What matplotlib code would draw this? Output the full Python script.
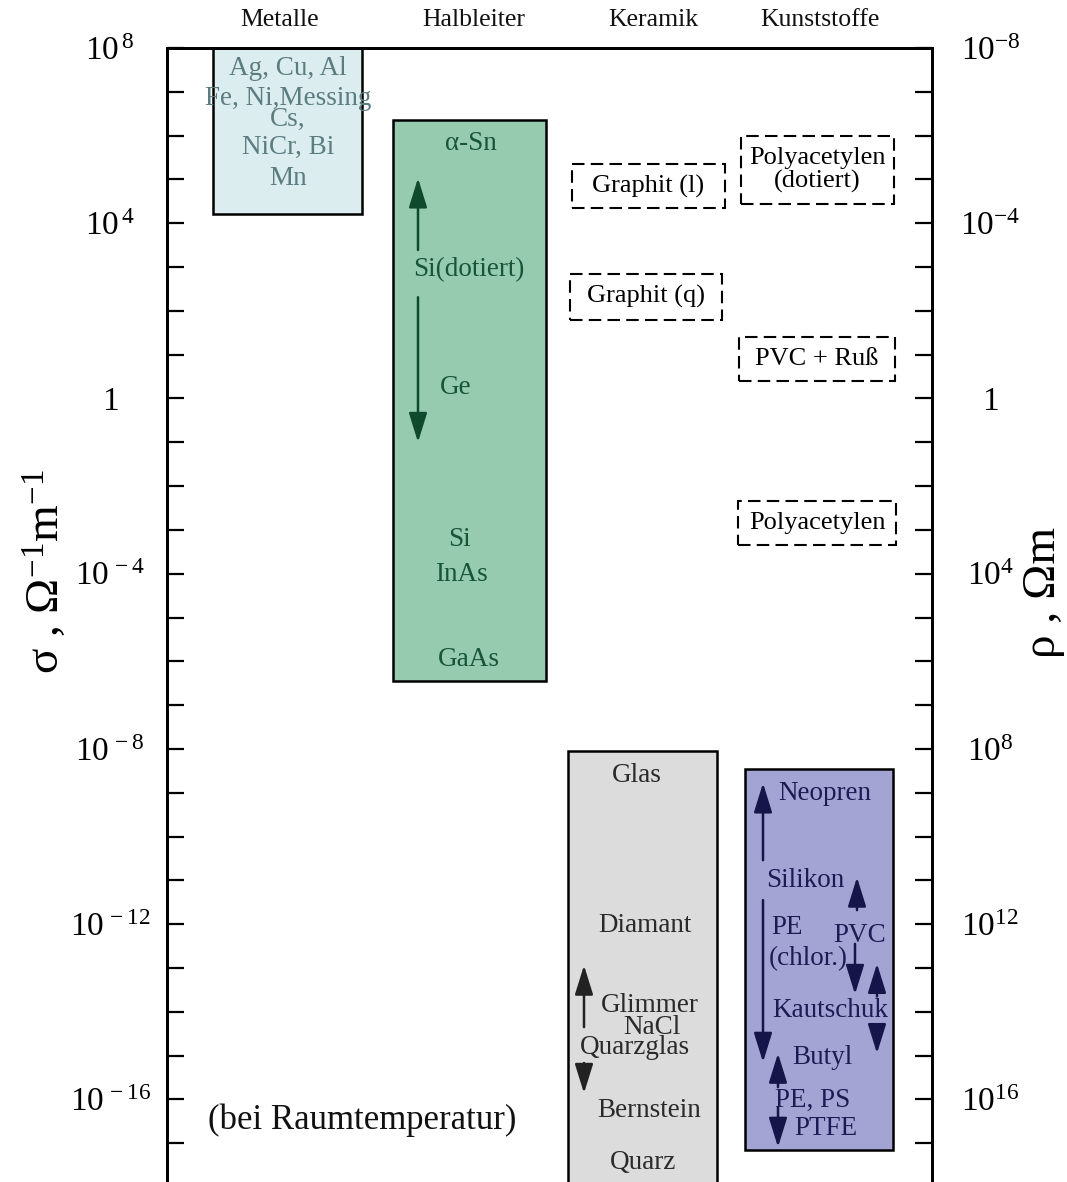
import matplotlib
matplotlib.use("Agg")
import matplotlib.pyplot as plt
from matplotlib.patches import Rectangle
from matplotlib.transforms import blended_transform_factory
from matplotlib.ticker import FixedLocator, FixedFormatter, NullLocator

plt.rcParams['font.family'] = ['Liberation Serif', 'DejaVu Serif']
plt.rcParams['mathtext.fontset'] = 'custom'
plt.rcParams['mathtext.rm'] = 'Liberation Serif'
plt.rcParams['mathtext.it'] = 'Liberation Serif:italic'
plt.rcParams['mathtext.bf'] = 'Liberation Serif:bold'

# ---------------------------------------------------------------- data
categories = ['Metalle', 'Halbleiter', 'Keramik', 'Kunststoffe']

# conductivity ranges of the material classes, log10(sigma / (Ohm^-1 m^-1))
class_low = [4.2, -6.45, -18.5, -17.15]
class_high = [8.0, 6.35, -8.05, -8.45]

# special (conducting) materials, drawn as dashed boxes
special_names = ['Graphit (l)', 'Graphit (q)', 'Polyacetylen\n(dotiert)',
                 'PVC + Ruß', 'Polyacetylen']
special_low = [4.35, 1.8, 4.45, 0.4, -3.35]
special_high = [5.35, 2.85, 6.0, 1.4, -2.35]

metal_labels = ['Ag, Cu, Al', 'Fe, Ni,Messing', 'Cs,', 'NiCr, Bi', 'Mn']
metal_sigma = [7.54, 6.84, 6.36, 5.74, 5.03]

semi_labels = ['α-Sn', 'Si(dotiert)', 'Ge', 'Si', 'InAs', 'GaAs']
semi_sigma = [5.83, 2.93, 0.26, -3.23, -4.01, -5.95]

ceramic_labels = ['Glas', 'Diamant', 'Glimmer', 'NaCl', 'Quarzglas',
                  'Bernstein', 'Quarz']
ceramic_sigma = [-8.6, -12.02, -13.85, -14.35, -14.81, -16.25, -17.43]

polymer_labels = ['Neopren', 'Silikon', 'PE', 'PVC', '(chlor.)',
                  'Kautschuk', 'Butyl', 'PE, PS', 'PTFE']
polymer_sigma = [-9.01, -11.0, -12.07, -12.25, -12.78, -13.96, -15.04,
                 -16.02, -16.66]

# arrows indicating spread of values: (start, end) in log10 sigma
semi_arrow_from = [3.39, 2.31]
semi_arrow_to = [5.03, -1.0]
ceramic_arrow_from = [-14.35, -15.17]
ceramic_arrow_to = [-12.94, -15.86]
polymer_arrow_from = [-10.54, -11.45, -11.68, -12.45, -13.65, -14.3, -15.72, -16.18]
polymer_arrow_to = [-8.78, -15.15, -10.93, -13.6, -12.9, -14.95, -14.95, -17.09]

sigma_ticks = list(range(-18, 9))
sigma_tick_labels = {8: r'$10^{\,8}$', 4: r'$10^{\,4}$', 0: '1',
                     -4: r'$10^{\,-4}$', -8: r'$10^{\,-8}$',
                     -12: r'$10^{\,-12}$', -16: r'$10^{\,-16}$'}
rho_ticks = list(range(-8, 19))
rho_tick_labels = {-8: r'$10^{-8}$', -4: r'$10^{-4}$', 0: '1',
                   4: r'$10^{4}$', 8: r'$10^{8}$', 12: r'$10^{12}$',
                   16: r'$10^{16}$'}

# ---------------------------------------------------------------- layout
W, H = 1067, 1182
fig = plt.figure(figsize=(W / 100, H / 100), dpi=100)
ax = fig.add_axes([167 / W, 1 - 1187 / H, 765 / W, (1187 - 48) / H])
ax.set_xlim(0, 765)
ax.set_yscale('log')
ax.set_ylim(10.0 ** -18, 10.0 ** 8)

class_x = [46, 226, 401, 578]
class_w = [149, 153, 149, 148]
class_face = ['#dcedf0', '#97cbb0', '#dcdcdc', '#a4a4d4']
class_text = ['#5c7d80', '#16553a', '#2a2a2a', '#1c1c55']

special_x = [405, 403, 574, 572, 571]
special_w = [153, 152, 153, 156, 158]

title_x = [113, 307, 486, 653]

# ---------------------------------------------------------------- boxes
for x0, w, lo, hi, fc in zip(class_x, class_w, class_low, class_high, class_face):
    ax.add_patch(Rectangle((x0, 10.0 ** lo), w, 10.0 ** hi - 10.0 ** lo,
                           facecolor=fc, edgecolor='black', lw=1.8, zorder=2))

for name, x0, w, lo, hi in zip(special_names, special_x, special_w,
                               special_low, special_high):
    ax.add_patch(Rectangle((x0, 10.0 ** lo), w, 10.0 ** hi - 10.0 ** lo,
                           facecolor='none', edgecolor='black', lw=1.5,
                           linestyle=(0, (6, 3)), zorder=2))
    ym = 10.0 ** ((lo + hi) / 2)
    ax.text(x0 + w / 2, ym, name, ha='center', va='center', fontsize=19,
            linespacing=1.05, color='black', zorder=3)

# ---------------------------------------------------------------- labels
metal_x = [121, 121, 121, 121, 121]
semi_x = [304, 302, 289, 292, 294, 302]
ceramic_x = [470, 478, 483, 485, 468, 482, 476]
polymer_x = [658, 638, 620, 693, 641, 663, 655, 646, 659]

label_sets = [(metal_labels, metal_sigma, metal_x, class_text[0]),
              (semi_labels, semi_sigma, semi_x, class_text[1]),
              (ceramic_labels, ceramic_sigma, ceramic_x, class_text[2]),
              (polymer_labels, polymer_sigma, polymer_x, class_text[3])]
for labels, sig, xs, col in label_sets:
    for lab, s, x in zip(labels, sig, xs):
        ax.text(x, 10.0 ** s, lab, ha='center', va='center', fontsize=19.5,
                color=col, zorder=4)

# ---------------------------------------------------------------- arrows
def draw_arrows(xs, starts, ends, color):
    for x, a, b in zip(xs, starts, ends):
        ax.annotate('', xy=(x, 10.0 ** b), xytext=(x, 10.0 ** a),
                    arrowprops=dict(arrowstyle='-|>,head_length=0.9,head_width=0.28',
                                    mutation_scale=20, lw=1.8, color=color,
                                    shrinkA=0, shrinkB=0),
                    zorder=4)

draw_arrows([251, 251], semi_arrow_from, semi_arrow_to, '#0f4a2e')
draw_arrows([417, 417], ceramic_arrow_from, ceramic_arrow_to, '#222222')
draw_arrows([596, 596, 690, 688, 710, 710, 611, 611],
            polymer_arrow_from, polymer_arrow_to, '#15154a')

ax.text(195, 10.0 ** -16.47, '(bei Raumtemperatur)', ha='center', va='center',
        fontsize=25, color='#111111')

# ---------------------------------------------------------------- headers
hdr = blended_transform_factory(ax.transData, fig.transFigure)
for name, x in zip(categories, title_x):
    ax.text(x, 1 - 20 / H, name, transform=hdr, ha='center', va='center',
            fontsize=18.5, color='#111111')

# ---------------------------------------------------------------- axes styling
for side in ['top', 'left', 'right']:
    ax.spines[side].set_linewidth(2.0)
ax.spines['bottom'].set_visible(False)
ax.xaxis.set_major_locator(NullLocator())

ax.yaxis.set_major_locator(FixedLocator([10.0 ** k for k in sigma_ticks]))
ax.yaxis.set_minor_locator(NullLocator())
ax.yaxis.set_major_formatter(FixedFormatter([sigma_tick_labels.get(k, '')
                                             for k in sigma_ticks]))
ax.tick_params(axis='y', direction='in', length=12, width=1.6,
               labelsize=24, pad=41, left=True, right=False)
for t in ax.get_yticklabels():
    t.set_horizontalalignment('center')
ax.set_ylabel(r'σ , Ω$^{-1}$m$^{-1}$', fontsize=34)
ax.yaxis.label.set_horizontalalignment('center')
ax.yaxis.label.set_verticalalignment('center')
ax.yaxis.set_label_coords(-0.159, 0.54)

axr = ax.twinx()
axr.set_yscale('log')
axr.set_ylim(10.0 ** 18, 10.0 ** -8)
axr.yaxis.set_major_locator(FixedLocator([10.0 ** k for k in rho_ticks]))
axr.yaxis.set_minor_locator(NullLocator())
axr.yaxis.set_major_formatter(FixedFormatter([rho_tick_labels.get(k, '')
                                              for k in rho_ticks]))
axr.tick_params(axis='y', direction='in', length=12, width=1.6,
                labelsize=24, pad=42, right=True, left=False)
for t in axr.get_yticklabels():
    t.set_horizontalalignment('center')
for side in ['top', 'left', 'right']:
    axr.spines[side].set_linewidth(2.0)
axr.spines['bottom'].set_visible(False)
axr.set_ylabel('ρ , Ωm', fontsize=34, rotation=90)
axr.yaxis.label.set_horizontalalignment('center')
axr.yaxis.label.set_verticalalignment('center')
axr.yaxis.set_label_coords(1.146, 0.522)

fig.savefig('out.png', dpi=100)
